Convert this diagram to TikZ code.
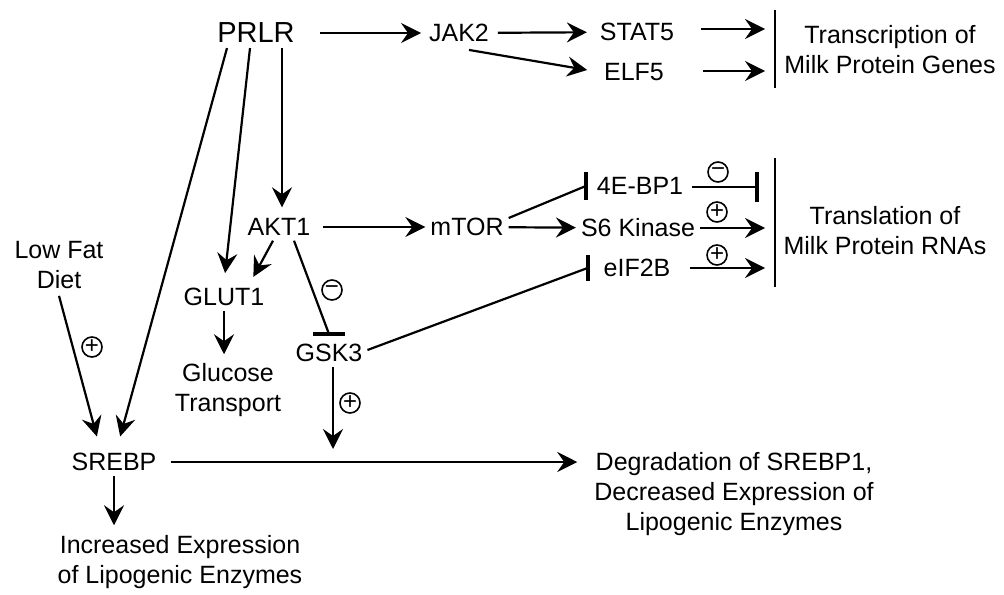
\documentclass[tikz,border=0pt]{standalone}
\usepackage{fontspec}
\setmainfont{Liberation Sans}
\usetikzlibrary{arrows.meta}

\begin{document}
\begin{tikzpicture}[x=0.5pt, y=-0.5pt, line width=1.1pt,
	font=\fontsize{12.5}{15}\selectfont,
	main/.style = {inner sep=2pt, align=center},
	act/.style = {-{Stealth[length=10pt, width=10pt, inset=3.5pt]}},
	blk/.style = {-{Bar[width=15pt, line width=2pt]}},
	tbar/.style = {line width=2pt},
	sign/.style = {draw, circle, line width=0.8pt, inner sep=0pt, minimum size=10pt, font=\fontsize{12}{12}\selectfont}]
	\useasboundingbox (0,0) rectangle (1004,594);
	\node[main, font=\fontsize{14.5}{17}\selectfont] (PRLR) at (256,33){PRLR};
	\node[main] (JAK2) at (459,33){JAK2};
	\node[main] (STAT5) at (637,32){STAT5};
	\node[main] (ELF5) at (634,72){ELF5};
	\node[main] (trans) at (890,50){Transcription of\\Milk Protein Genes};
	\node[main] (AKT1) at (279,227){AKT1};
	\node[main] (mTOR) at (467,227){mTOR};
	\node[main] (bp1) at (640,186){4E-BP1};
	\node[main] (S6K) at (638,228){S6 Kinase};
	\node[main] (eIF2B) at (637,268){eIF2B};
	\node[main] (transl) at (885,231){Translation of\\Milk Protein RNAs};
	\node[main] (GLUT1) at (224,297){GLUT1};
	\node[main] (gluc) at (228,390){Glucose\\Transport};
	\node[main] (GSK3) at (329,353){GSK3};
	\node[main] (diet) at (59,265){Low Fat\\Diet};
	\node[main] (SREBP) at (114,462){SREBP};
	\node[main] (incr) at (180,562){Increased Expression\\of Lipogenic Enzymes};
	\node[main] (degr) at (734,494){Degradation of SREBP1,\\Decreased Expression of\\Lipogenic Enzymes};

	\coordinate (tr1) at (775,10);
	\coordinate (tr2) at (775,88);
	\coordinate (tl1) at (775,158);
	\coordinate (tl2) at (775,287);
	\coordinate (stat5e) at (765,29);
	\coordinate (elf5e) at (765,71);
	\coordinate (s6e) at (765,228);
	\coordinate (eifE) at (765,268);
	\coordinate (bp1e) at (759,187);
	\coordinate (gskE) at (333,449);
	\coordinate (gskT) at ([yshift=2.5pt]GSK3.north);
	\draw[line width=1.3pt] (tr1) -- (tr2);
	\draw[line width=1.3pt] (tl1) -- (tl2);

	\draw[act, shorten <=10pt, shorten >=1.5pt] (PRLR) -- (JAK2);
	\draw[act, shorten <=2pt, shorten >=4pt] (JAK2) -- (STAT5);
	\draw[act, shorten >=6pt] ([xshift=5pt,yshift=-1.5pt]JAK2.south) -- (ELF5.west);
	\draw[act, shorten <=11pt] (STAT5.east |- stat5e) -- (stat5e);
	\draw[act, shorten <=17pt] (ELF5.east |- elf5e) -- (elf5e);

	\draw[act, shorten >=3pt] ([xshift=13pt]PRLR.south) -- ([xshift=13pt]PRLR.south |- AKT1.north);
	\draw[act, shorten >=5pt] ([xshift=-3pt]PRLR.south) -- (GLUT1.north);
	\draw[act, shorten >=6pt] ([xshift=-14.5pt]PRLR.south) -- ([xshift=1.5pt]SREBP.north);

	\draw[act, shorten <=4pt] (AKT1) -- (mTOR);
	\draw[act] (mTOR) -- (S6K);
	\draw ([yshift=4.5pt]mTOR.east) -- ([xshift=-3pt]bp1.west);
	\draw[tbar] ([xshift=-3pt,yshift=-7pt]bp1.west) -- ([xshift=-3pt,yshift=7pt]bp1.west);
	\draw[blk, shorten <=2pt] (bp1.east |- bp1e) -- (bp1e);
	\draw[act] (S6K.east) -- (s6e);
	\draw[act, shorten <=7.5pt] (eIF2B.east |- eifE) -- (eifE);

	\draw[act, shorten >=3.5pt] ([xshift=-3pt]AKT1.south) -- ([xshift=13pt]GLUT1.north);
	\draw[act, shorten >=2pt] (GLUT1.south) -- (GLUT1.south |- gluc.north);
	\draw ([xshift=7.5pt]AKT1.south) -- (gskT);
	\draw[tbar] ([xshift=-8pt]gskT) -- ([xshift=8pt]gskT);
	\draw ([yshift=1.5pt]GSK3.east) -- ([xshift=-5.5pt]eIF2B.west);
	\draw[tbar] ([xshift=-5.5pt,yshift=-6.5pt]eIF2B.west) -- ([xshift=-5.5pt,yshift=6.5pt]eIF2B.west);
	\draw[act] ([xshift=2pt]GSK3.south) -- (gskE);

	\draw[act, shorten >=6pt] ([yshift=-1pt]diet.south) -- ([xshift=-7pt]SREBP.north);
	\draw[act, shorten <=5pt, shorten >=6pt] (SREBP.east) -- (SREBP.east -| degr.west);
	\draw[act, shorten >=2.5pt] (SREBP.south) -- (SREBP.south |- incr.north);

	\node[sign] (m1) at (718,172){−};
	\node[sign] (p1) at (717,212){+};
	\node[sign] (p2) at (717,255){+};
	\node[sign] (m2) at (332,290){−};
	\node[sign] (p3) at (350,403){+};
	\node[sign] (p4) at (92,347){+};
\end{tikzpicture}
\end{document}
